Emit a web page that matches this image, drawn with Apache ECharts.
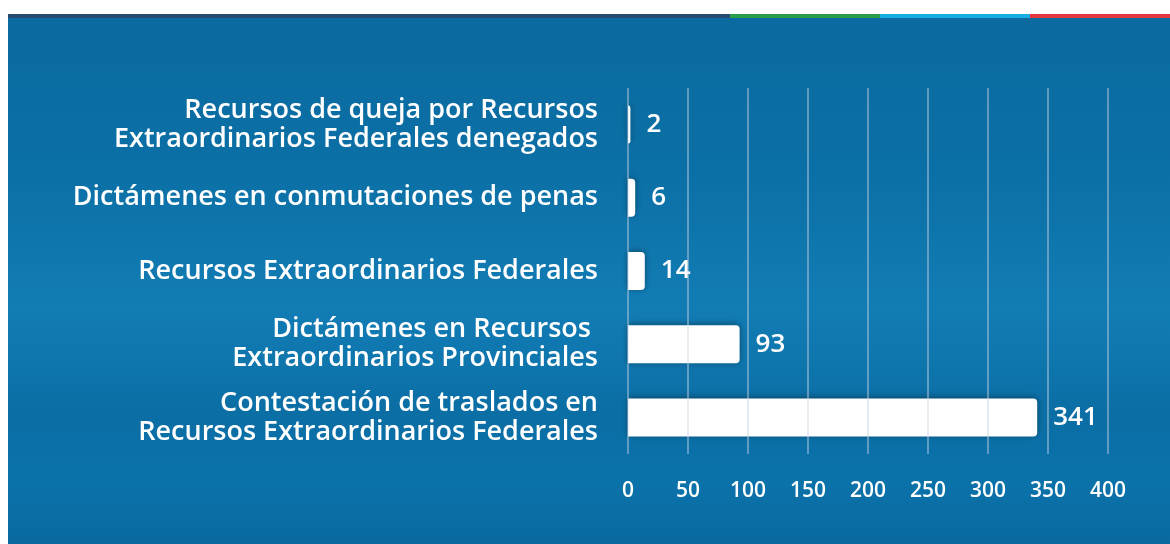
<!DOCTYPE html>
<html>
<head>
<meta charset="utf-8">
<script src="https://cdn.jsdelivr.net/npm/echarts@6/dist/echarts.min.js"></script>
<style>
  html, body { margin: 0; padding: 0; background: #fff; }
  #chart { width: 1170px; height: 544px; }
</style>
</head>
<body>
<div id="chart"></div>
<script>
const categories = [
  'Recursos de queja por Recursos\nExtraordinarios Federales denegados',
  'Dictámenes en conmutaciones de penas',
  'Recursos Extraordinarios Federales',
  'Dictámenes en Recursos \nExtraordinarios Provinciales',
  'Contestación de traslados en\nRecursos Extraordinarios Federales'
];
const values = [2, 6, 14, 93, 341];
const xTicks = [0, 50, 100, 150, 200, 250, 300, 350, 400];

const chart = echarts.init(document.getElementById('chart'));
const font = '"Open Sans", sans-serif';

const option = {
  animation: false,
  backgroundColor: '#ffffff',
  graphic: [
    {
      type: 'rect', silent: true, z: -10,
      shape: { x: 8, y: 14, width: 1162, height: 530 },
      style: {
        fill: new echarts.graphic.LinearGradient(0, 0, 0, 1, [
          { offset: 0, color: '#0b6a9f' },
          { offset: 0.3, color: '#0b70a6' },
          { offset: 0.55, color: '#127cb4' },
          { offset: 0.65, color: '#0f76ae' },
          { offset: 0.75, color: '#0b6ea5' },
          { offset: 0.88, color: '#0b72aa' },
          { offset: 1, color: '#0a6aa0' }
        ])
      }
    },
    // franja de colores arriba
    { type: 'rect', silent: true, z: -5, shape: { x: 8, y: 14, width: 722, height: 4 }, style: { fill: '#274b6e' } },
    { type: 'rect', silent: true, z: -5, shape: { x: 730, y: 14, width: 150, height: 4 }, style: { fill: '#2a9d4c' } },
    { type: 'rect', silent: true, z: -5, shape: { x: 880, y: 14, width: 150, height: 4 }, style: { fill: '#14ade0' } },
    { type: 'rect', silent: true, z: -5, shape: { x: 1030, y: 14, width: 140, height: 4 }, style: { fill: '#e4373f' } }
  ],
  grid: { left: 628, right: 62, top: 88, bottom: 90 },
  xAxis: {
    type: 'value',
    min: 0,
    max: 400,
    interval: 50,
    z: 3,
    axisLine: { show: false },
    axisTick: { show: false },
    axisLabel: {
      color: '#ffffff',
      fontFamily: font,
      fontSize: 21,
      fontWeight: 600,
      margin: 27,
      formatter: v => xTicks.includes(v) ? String(v) : ''
    },
    splitLine: { lineStyle: { color: 'rgba(200,212,225,0.6)', width: 1.5 } }
  },
  yAxis: {
    type: 'category',
    inverse: true,
    data: categories,
    axisLine: { show: false },
    axisTick: { show: false },
    axisLabel: {
      color: '#ffffff',
      fontFamily: font,
      fontSize: 27,
      fontWeight: 600,
      lineHeight: 29,
      margin: 30,
      align: 'right'
    }
  },
  series: [{
    type: 'bar',
    data: values,
    barWidth: 38,
    itemStyle: {
      color: '#ffffff',
      borderRadius: [0, 4, 4, 0],
      shadowBlur: 6,
      shadowColor: 'rgba(0,0,0,0.4)',
      shadowOffsetY: -1
    },
    label: {
      show: true,
      position: 'right',
      distance: 16,
      color: '#ffffff',
      fontFamily: font,
      fontSize: 26,
      fontWeight: 600
    }
  }]
};

chart.setOption(option);
</script>
</body>
</html>
